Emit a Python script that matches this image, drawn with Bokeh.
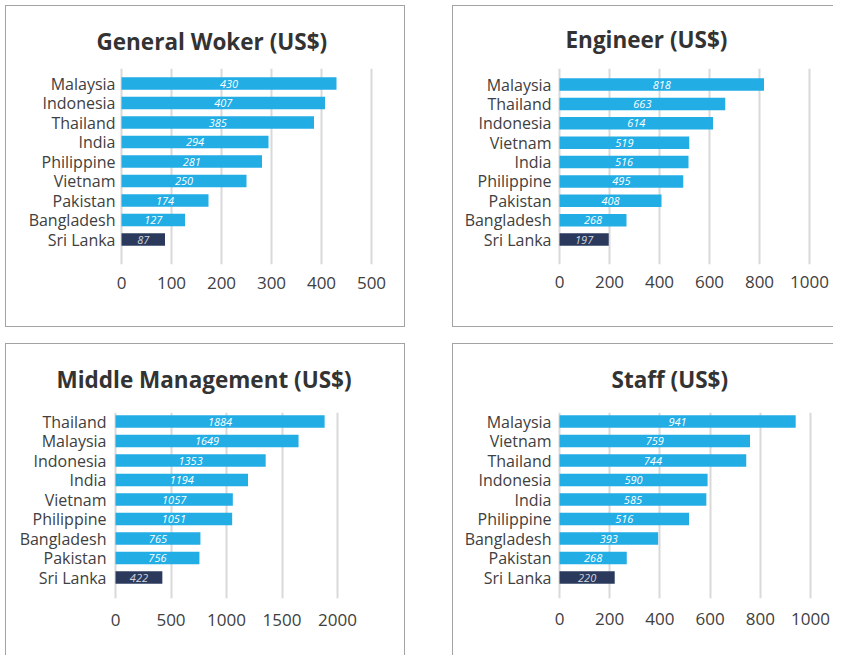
from bokeh.plotting import figure
from bokeh.models import ColumnDataSource, FixedTicker, Range1d
from bokeh.layouts import row, column
from bokeh.core.properties import value
from bokeh.embed import file_html
from bokeh.resources import INLINE

# ---------------- data ----------------
gw_title = "General Woker (US$)"
gw_countries = ["Malaysia", "Indonesia", "Thailand", "India", "Philippine", "Vietnam", "Pakistan", "Bangladesh", "Sri Lanka"]
gw_values = [430, 407, 385, 294, 281, 250, 174, 127, 87]
gw_ticks = [0, 100, 200, 300, 400, 500]

eng_title = "Engineer (US$)"
eng_countries = ["Malaysia", "Thailand", "Indonesia", "Vietnam", "India", "Philippine", "Pakistan", "Bangladesh", "Sri Lanka"]
eng_values = [818, 663, 614, 519, 516, 495, 408, 268, 197]
eng_ticks = [0, 200, 400, 600, 800, 1000]

mm_title = "Middle Management (US$)"
mm_countries = ["Thailand", "Malaysia", "Indonesia", "India", "Vietnam", "Philippine", "Bangladesh", "Pakistan", "Sri Lanka"]
mm_values = [1884, 1649, 1353, 1194, 1057, 1051, 765, 756, 422]
mm_ticks = [0, 500, 1000, 1500, 2000]

staff_title = "Staff (US$)"
staff_countries = ["Malaysia", "Vietnam", "Thailand", "Indonesia", "India", "Philippine", "Bangladesh", "Pakistan", "Sri Lanka"]
staff_values = [941, 759, 744, 590, 585, 516, 393, 268, 220]
staff_ticks = [0, 200, 400, 600, 800, 1000]

HIGHLIGHT = "Sri Lanka"

# ---------------- styles ----------------
FONT = "Open Sans"
BLUE = "#22ade4"
NAVY = "#2b3a5c"
TXT = "#404040"
GRID = "#d9d9d9"
BORDER = "1px solid #a3a3a3"


def make_panel(title, countries, values, ticks, width, height,
               frame_left, frame_top, frame_bottom, scale,
               top_center, bottom_center, title_left, title_standoff,
               tick_standoff, ylab_standoff, styles):
    n = len(countries)
    ys = [n - 1 - i for i in range(n)]
    pitch = (bottom_center - top_center) / (n - 1)
    y_start = -(frame_bottom - bottom_center) / pitch
    y_end = (n - 1) + (top_center - frame_top) / pitch
    xmax = ticks[-1]
    pad = 3 / scale
    frame_w = xmax * scale + 6
    right_border = int(round(width - frame_left - frame_w))

    colors = [NAVY if c == HIGHLIGHT else BLUE for c in countries]
    tcolors = ["#d3d7df" if c == HIGHLIGHT else "#ffffff" for c in countries]
    src = ColumnDataSource(dict(
        y=ys, v=values, mid=[v / 2 for v in values],
        lab=[str(v) for v in values], c=colors, tc=tcolors))

    p = figure(width=width, height=height, title=title,
               x_range=Range1d(-pad, xmax + pad),
               y_range=Range1d(y_start, y_end),
               output_backend="svg", toolbar_location=None,
               sizing_mode="fixed",
               min_border_left=frame_left, min_border_right=right_border,
               min_border_top=frame_top,
               min_border_bottom=height - frame_bottom,
               outline_line_color=None, background_fill_color="white",
               border_fill_color="white", styles=styles)

    p.title.align = "left"
    p.title.offset = title_left - frame_left
    p.title.standoff = title_standoff
    p.title.text_font = FONT
    p.title.text_font_style = "bold"
    p.title.text_font_size = "22.5px"
    p.title.text_color = "#333333"

    p.hbar(y="y", left=0, right="v", height=12.5 / pitch, fill_color="c",
           line_color=None, source=src)
    p.text(x="mid", y="y", text="lab", text_color="tc",
           text_font=value(FONT), text_font_style="italic",
           text_font_size="11px", text_align="center",
           text_baseline="middle", source=src)

    p.xaxis.ticker = FixedTicker(ticks=ticks)
    p.xaxis.axis_line_color = None
    p.xaxis.major_tick_line_color = None
    p.xaxis.minor_tick_line_color = None
    p.xaxis.major_tick_out = 0
    p.xaxis.major_label_standoff = tick_standoff
    p.xaxis.major_label_text_font = FONT
    p.xaxis.major_label_text_font_size = "17px"
    p.xaxis.major_label_text_color = TXT

    p.yaxis.ticker = FixedTicker(ticks=ys)
    p.yaxis.major_label_overrides = {y: c for y, c in zip(ys, countries)}
    p.yaxis.axis_line_color = None
    p.yaxis.major_tick_line_color = None
    p.yaxis.minor_tick_line_color = None
    p.yaxis.major_tick_out = 0
    p.yaxis.major_label_standoff = ylab_standoff
    p.yaxis.major_label_text_font = FONT
    p.yaxis.major_label_text_font_size = "16px"
    p.yaxis.major_label_text_color = TXT

    p.xgrid.grid_line_color = GRID
    p.xgrid.grid_line_width = 2
    p.ygrid.grid_line_color = None
    return p


# plot frames in one row share their top/bottom edges
p1 = make_panel(gw_title, gw_countries, gw_values, gw_ticks, 400, 322,
                112, 62, 258, 0.5, 77, 233, 90, 23, 12, 3,
                {"border": BORDER})
p2 = make_panel(eng_title, eng_countries, eng_values, eng_ticks, 381, 322,
                103, 62, 258, 0.25, 78, 233, 112, 27, 11, 5,
                {"border-left": BORDER, "border-top": BORDER,
                 "border-bottom": BORDER})
p3 = make_panel(mm_title, mm_countries, mm_values, mm_ticks, 400, 312,
                106, 68, 254, 0.111, 77, 233, 50, 35, 15, 6,
                {"border-left": BORDER, "border-top": BORDER,
                 "border-right": BORDER})
p4 = make_panel(staff_title, staff_countries, staff_values, staff_ticks, 381, 312,
                103, 68, 254, 0.251, 77, 233, 158, 35, 14, 5,
                {"border-left": BORDER, "border-top": BORDER})

layout = column(row(p1, p2, spacing=47), row(p3, p4, spacing=47), spacing=16,
                styles={"margin-left": "5px", "margin-top": "5px"})

open("out.html", "w").write(file_html(layout, INLINE))
